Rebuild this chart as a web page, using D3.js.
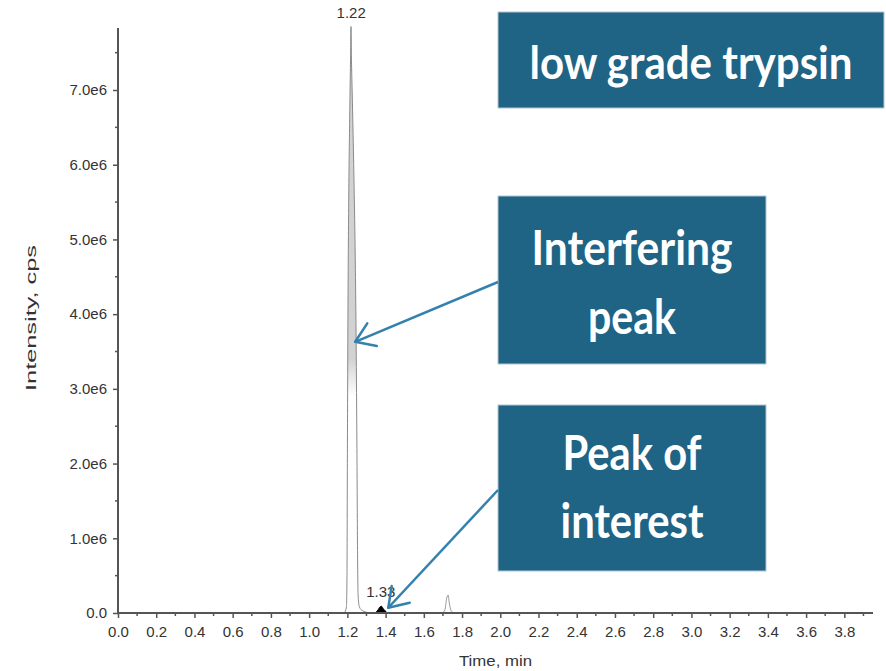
<!DOCTYPE html>
<html>
<head>
    <meta charset="utf-8">
    <style>
        body { margin: 0; background: #fff; }
        svg { display: block; }
        .axis text { font-family: 'Liberation Sans', Arial, sans-serif; font-size: 15px; fill: #333; }
        .axis path, .axis line { stroke: #555; }
        .box-text { font-family: Lato, 'Open Sans', sans-serif; font-weight: 700; fill: #fff; }
    </style>
    <title>low grade trypsin</title>
</head>
<body>
<svg width="886" height="671"></svg>
<script src="https://d3js.org/d3.v7.min.js"></script>
<script>
    let width = 886;
    let height = 671;
    let svg = d3.select("svg");

    // interfering peak at 1.22 min
    let interferingTime = [1.17, 1.185, 1.195, 1.198, 1.200, 1.203, 1.207, 1.212, 1.2165, 1.219, 1.2215, 1.225, 1.230, 1.236, 1.242, 1.246, 1.250, 1.253, 1.256, 1.263, 1.28, 1.31, 1.33];
    let interferingIntensity = [0, 0.01e6, 0.08e6, 0.5e6, 2.0e6, 4.0e6, 5.5e6, 6.6e6, 7.4e6, 7.85e6, 7.4e6, 7.0e6, 6.4e6, 5.6e6, 4.6e6, 3.6e6, 2.2e6, 0.9e6, 0.25e6, 0.08e6, 0.03e6, 0.005e6, 0];

    // peak of interest (labelled 1.33)
    let interestTime = [1.345, 1.36, 1.372, 1.378, 1.39, 1.405, 1.41];
    let interestIntensity = [0, 0.04e6, 0.085e6, 0.09e6, 0.05e6, 0.01e6, 0];

    // small peak near 1.72 min
    let minorTime = [1.695, 1.71, 1.72, 1.727, 1.734, 1.745, 1.76];
    let minorIntensity = [0, 0.04e6, 0.2e6, 0.24e6, 0.12e6, 0.02e6, 0];

    let peakLabels = ["1.22", "1.33"];
    let peakLabelTime = [1.22, 1.375];
    let peakLabelIntensity = [7.85e6, 0.09e6];

    let xTickValues = d3.range(0, 3.81, 0.2);
    let xMinorValues = d3.range(0.1, 3.95, 0.2);
    let yTickValues = [0, 1e6, 2e6, 3e6, 4e6, 5e6, 6e6, 7e6];
    let yTickLabels = ["0.0", "1.0e6", "2.0e6", "3.0e6", "4.0e6", "5.0e6", "6.0e6", "7.0e6"];
    let yMinorValues = [0.5e6, 1.5e6, 2.5e6, 3.5e6, 4.5e6, 5.5e6, 6.5e6, 7.5e6];

    let x = d3.scaleLinear().domain([0, 3.95]).range([118, 873]);
    let y = d3.scaleLinear().domain([0, 7.83e6]).range([613, 28]);

    let toPoints = (ts, vs) => ts.map((t, i) => [t, vs[i]]);
    let line = d3.line().x(d => x(d[0])).y(d => y(d[1])).curve(d3.curveMonotoneX);
    let area = d3.area().x(d => x(d[0])).y0(y(0)).y1(d => y(d[1])).curve(d3.curveMonotoneX);

    // fill only the upper part of the interfering peak, as in the screenshot
    let fade = svg.append("defs").append("linearGradient")
        .attr("id", "fade")
        .attr("gradientUnits", "userSpaceOnUse")
        .attr("x1", 0).attr("x2", 0)
        .attr("y1", y(3.4e6)).attr("y2", y(2.9e6));
    fade.append("stop").attr("offset", 0).attr("stop-color", "#d2d2d2").attr("stop-opacity", 1);
    fade.append("stop").attr("offset", 1).attr("stop-color", "#d2d2d2").attr("stop-opacity", 0);

    let interfering = toPoints(interferingTime, interferingIntensity);
    svg.append("path")
        .datum(interfering)
        .attr("d", area)
        .attr("fill", "url(#fade)");
    svg.append("path")
        .datum(interfering)
        .attr("d", line)
        .attr("fill", "none")
        .attr("stroke", "#8a8a8a")
        .attr("stroke-width", 1);

    svg.append("path")
        .datum(toPoints(minorTime, minorIntensity))
        .attr("d", line)
        .attr("fill", "none")
        .attr("stroke", "#9a9a9a")
        .attr("stroke-width", 1);

    svg.append("path")
        .datum(toPoints(interestTime, interestIntensity))
        .attr("d", area)
        .attr("fill", "#000")
        .attr("stroke", "#000")
        .attr("stroke-width", 1);

    svg.append("g")
        .selectAll("text")
        .data(peakLabels)
        .join("text")
        .attr("x", (d, i) => x(peakLabelTime[i]))
        .attr("y", (d, i) => y(peakLabelIntensity[i]) - 9)
        .attr("text-anchor", "middle")
        .style("font-family", "'Liberation Sans', Arial, sans-serif")
        .style("font-size", "15px")
        .attr("fill", "#333")
        .text(d => d);

    // axes
    let xAxis = svg.append("g")
        .attr("class", "axis")
        .attr("transform", `translate(0,${y(0)})`)
        .call(d3.axisBottom(x).tickValues(xTickValues).tickFormat(d3.format(".1f")).tickSize(5).tickPadding(8).tickSizeOuter(0));
    xAxis.select(".domain").attr("stroke-width", 2).attr("d", `M${x.range()[0]},0H${x.range()[1]}`);
    xAxis.selectAll(".tick line").attr("stroke-width", 1.5);

    svg.append("g")
        .attr("transform", `translate(0,${y(0)})`)
        .selectAll("line")
        .data(xMinorValues)
        .join("line")
        .attr("x1", d => x(d)).attr("x2", d => x(d))
        .attr("y1", 0).attr("y2", 3)
        .attr("stroke", "#555").attr("stroke-width", 1.5);

    let yAxis = svg.append("g")
        .attr("class", "axis")
        .attr("transform", `translate(${x(0)},0)`)
        .call(d3.axisLeft(y).tickValues(yTickValues).tickFormat((d, i) => yTickLabels[i]).tickSize(5).tickPadding(6).tickSizeOuter(0));
    yAxis.select(".domain").attr("stroke-width", 2).attr("d", `M0,${y.range()[0] + 1}V${y.range()[1]}`);
    yAxis.selectAll(".tick line").attr("stroke-width", 1.5);

    svg.append("g")
        .attr("transform", `translate(${x(0)},0)`)
        .selectAll("line")
        .data(yMinorValues)
        .join("line")
        .attr("x1", -3).attr("x2", 0)
        .attr("y1", d => y(d)).attr("y2", d => y(d))
        .attr("stroke", "#555").attr("stroke-width", 1.5);

    svg.append("text")
        .attr("x", (x.range()[0] + x.range()[1]) / 2)
        .attr("y", 666)
        .attr("text-anchor", "middle")
        .style("font-family", "'Liberation Sans', Arial, sans-serif")
        .style("font-size", "14px")
        .attr("fill", "#333")
        .attr("textLength", 73)
        .attr("lengthAdjust", "spacingAndGlyphs")
        .text("Time, min");

    svg.append("text")
        .attr("transform", "translate(36,318) rotate(-90)")
        .attr("text-anchor", "middle")
        .style("font-family", "'Liberation Sans', Arial, sans-serif")
        .style("font-size", "15px")
        .attr("fill", "#333")
        .attr("textLength", 146)
        .attr("lengthAdjust", "spacingAndGlyphs")
        .text("Intensity, cps");

    // annotation boxes
    let boxes = [
        { x0: 498, y0: 12, x1: 884, y1: 108 },
        { x0: 498, y0: 196, x1: 766, y1: 364 },
        { x0: 498, y0: 405, x1: 766, y1: 571 }
    ];
    let boxLines = [
        { box: 0, text: "low grade trypsin", y: 79, len: 323, size: 45 },
        { box: 1, text: "Interfering", y: 265, len: 201, size: 48 },
        { box: 1, text: "peak", y: 334, len: 88, size: 48 },
        { box: 2, text: "Peak of", y: 470, len: 139, size: 48 },
        { box: 2, text: "interest", y: 538, len: 143, size: 48 }
    ];

    svg.append("g")
        .selectAll("rect")
        .data(boxes)
        .join("rect")
        .attr("x", d => d.x0).attr("y", d => d.y0)
        .attr("width", d => d.x1 - d.x0).attr("height", d => d.y1 - d.y0)
        .attr("fill", "#1f6385")
        .attr("stroke", "#b4c6d0")
        .attr("stroke-width", 1);

    svg.append("g")
        .selectAll("text")
        .data(boxLines)
        .join("text")
        .attr("class", "box-text")
        .attr("x", d => (boxes[d.box].x0 + boxes[d.box].x1) / 2)
        .attr("y", d => d.y)
        .attr("text-anchor", "middle")
        .style("font-size", d => d.size + "px")
        .attr("textLength", d => d.len)
        .attr("lengthAdjust", "spacingAndGlyphs")
        .text(d => d.text);

    // arrows from boxes to peaks
    let arrows = [
        { from: [498, 282], t: 1.241, v: 3.63e6 },
        { from: [498, 490], t: 1.414, v: 0.07e6 }
    ];
    let arrowColor = "#3481ad";
    arrows.forEach(a => {
        let tip = [x(a.t), y(a.v)];
        let ang = Math.atan2(a.from[1] - tip[1], a.from[0] - tip[0]);
        let headLen = 22, spread = 34 * Math.PI / 180;
        svg.append("line")
            .attr("x1", a.from[0]).attr("y1", a.from[1])
            .attr("x2", tip[0]).attr("y2", tip[1])
            .attr("stroke", arrowColor).attr("stroke-width", 2.5);
        [-spread, spread].forEach(s => {
            svg.append("line")
                .attr("x1", tip[0]).attr("y1", tip[1])
                .attr("x2", tip[0] + headLen * Math.cos(ang + s))
                .attr("y2", tip[1] + headLen * Math.sin(ang + s))
                .attr("stroke", arrowColor).attr("stroke-width", 2.5)
                .attr("stroke-linecap", "round");
        });
    });
</script>
</body>
</html>
